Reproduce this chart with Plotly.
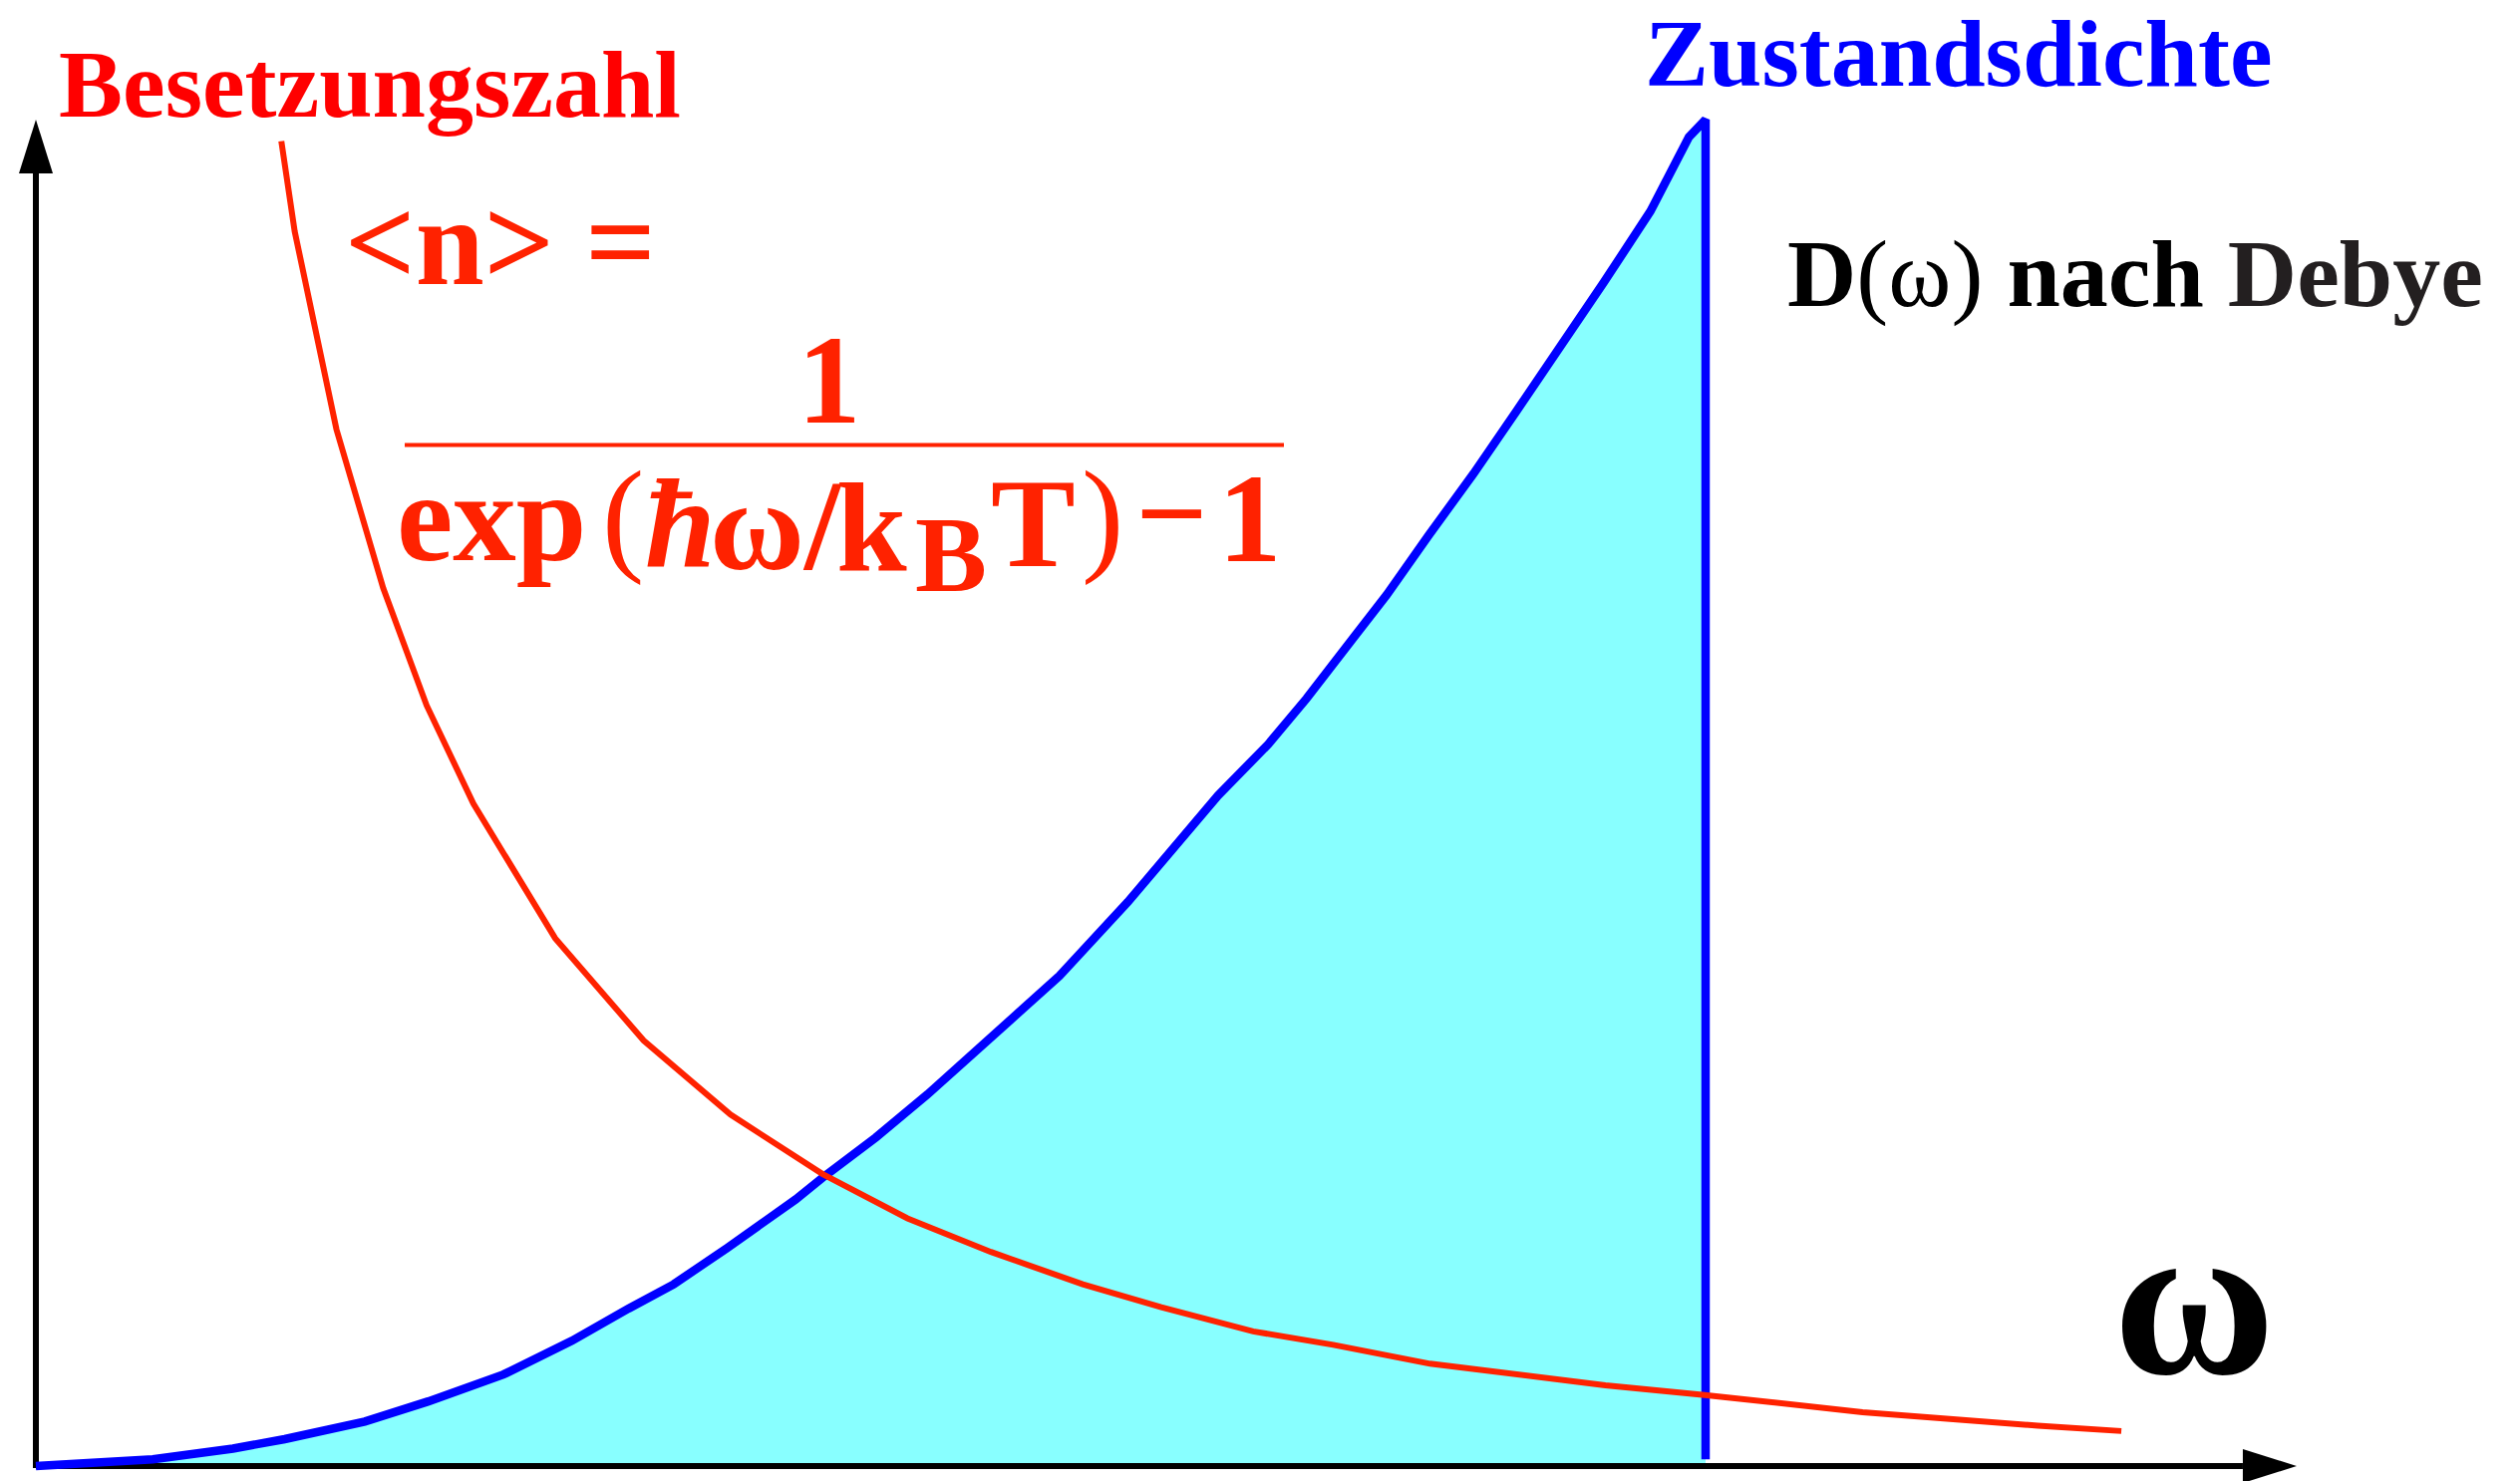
import plotly.graph_objects as go

W, H = 2528, 1486

# Debye density of states D(ω), scaled so that the cutoff ω_D = 1 and D(ω_D) = 1
dos_omega = [0.000, 0.019, 0.070, 0.118, 0.149, 0.197, 0.235, 0.280, 0.321, 0.355,
             0.382, 0.414, 0.455, 0.472, 0.503, 0.534, 0.585, 0.613, 0.654, 0.678,
             0.708, 0.738, 0.761, 0.789, 0.809, 0.834, 0.861, 0.887, 0.914, 0.939,
             0.967, 0.990, 1.000]
dos_value = [0.000, 0.001, 0.005, 0.013, 0.020, 0.033, 0.048, 0.068, 0.093, 0.117,
             0.135, 0.162, 0.198, 0.215, 0.244, 0.276, 0.334, 0.364, 0.419, 0.454,
             0.498, 0.536, 0.570, 0.615, 0.647, 0.691, 0.737, 0.784, 0.833, 0.879,
             0.932, 0.987, 1.000]
omega_debye = 1.0
cutoff_bottom = 0.005

# Bose-Einstein occupation <n>(ω) on the same frequency scale
occ_omega = [0.147, 0.155, 0.180, 0.208, 0.234, 0.262, 0.311, 0.364, 0.416, 0.471,
             0.522, 0.572, 0.627, 0.674, 0.729, 0.777, 0.835, 0.892, 0.940, 0.998,
             1.094, 1.199, 1.249]
occ_value = [0.984, 0.917, 0.770, 0.652, 0.565, 0.492, 0.392, 0.316, 0.261, 0.217,
             0.184, 0.159, 0.135, 0.118, 0.100, 0.090, 0.076, 0.067, 0.060, 0.053,
             0.040, 0.030, 0.026]

# Axis extents (data units)
x_axis_end = 1.354
y_axis_end = 1.0

# Pixel geometry of the drawing
ORIGIN_X, ORIGIN_Y = 36, 1471
PX_PER_OMEGA, PX_PER_D = 1675, 1351

RED = "#FF2200"
BLUE = "#0000FF"
CYAN = "#88FFFF"
SERIF = "Liberation Serif"
ASC, DESC = 0.891, 0.216

fig = go.Figure()

# shaded area under D(ω) up to the Debye cutoff
fig.add_trace(go.Scatter(
    x=[0.0] + dos_omega + [omega_debye, 0.0],
    y=[0.0] + dos_value + [0.0, 0.0],
    mode="lines", fill="toself", fillcolor=CYAN,
    line=dict(width=0, color=CYAN), hoverinfo="skip", showlegend=False))

# coordinate axes
arrow_len_px, arrow_half_px, axis_w = 54, 17, 6
x_shaft_end = x_axis_end - arrow_len_px / PX_PER_OMEGA
y_shaft_end = y_axis_end - arrow_len_px / PX_PER_D
fig.add_trace(go.Scatter(x=[0, x_shaft_end], y=[0, 0], mode="lines",
                         line=dict(color="black", width=axis_w),
                         hoverinfo="skip", showlegend=False))
fig.add_trace(go.Scatter(x=[0, 0], y=[-2 / PX_PER_D, y_shaft_end], mode="lines",
                         line=dict(color="black", width=axis_w),
                         hoverinfo="skip", showlegend=False))

# D(ω) curve with the vertical cutoff at ω_D
fig.add_trace(go.Scatter(
    x=dos_omega + [omega_debye], y=dos_value + [cutoff_bottom],
    mode="lines", line=dict(color=BLUE, width=8.5),
    hoverinfo="skip", showlegend=False))

# occupation number curve
fig.add_trace(go.Scatter(
    x=occ_omega, y=occ_value, mode="lines",
    line=dict(color=RED, width=6),
    hoverinfo="skip", showlegend=False))

# arrow heads
ah_x = arrow_half_px / PX_PER_OMEGA
ah_y = arrow_half_px / PX_PER_D
fig.add_shape(type="path", xref="x", yref="y",
              path=f"M {x_shaft_end} {-ah_y} L {x_axis_end} 0 L {x_shaft_end} {ah_y} Z",
              fillcolor="black", line=dict(width=0))
fig.add_shape(type="path", xref="x", yref="y",
              path=f"M {-ah_x} {y_shaft_end} L 0 {y_axis_end} L {ah_x} {y_shaft_end} Z",
              fillcolor="black", line=dict(width=0))


def label(text, left_px, baseline_px, size, color, bold=True, italic=False):
    y_center = baseline_px - (ASC - DESC) / 2 * size
    fig.add_annotation(
        text=text, x=left_px / W, y=1 - y_center / H,
        xref="paper", yref="paper", xanchor="left", yanchor="middle",
        showarrow=False, borderpad=0, borderwidth=0,
        font=dict(family=SERIF, size=size, color=color,
                  weight="bold" if bold else "normal",
                  style="italic" if italic else "normal"))


label("Besetzungszahl", 59, 117, 96, "#FF0000")
# title of the blue curve sits flush with the top edge
fig.add_annotation(
    text="Zustandsdichte", x=1650 / W, y=1.0, xref="paper", yref="paper",
    xanchor="left", yanchor="top", showarrow=False, borderpad=0, borderwidth=0,
    font=dict(family=SERIF, size=96, color=BLUE, weight="bold"))
label("<b>D</b>(ω)<b> nach </b><span style='color:#231F20'><b>Debye</b></span>",
      1793, 307, 96, "black", bold=False)

# <n> = 1 / (exp(ħω/k_B T) - 1)
label("&lt;n&gt; =", 346, 285, 124, RED)
label("1", 800, 424, 127, RED)
fig.add_shape(type="line", xref="paper", yref="paper",
              x0=406 / W, x1=1288 / W, y0=1 - 446.5 / H, y1=1 - 446.5 / H,
              line=dict(color=RED, width=4))
label("exp", 398, 562, 127, RED)
label("(", 604, 560, 127, RED, bold=False)
label("ħ", 647, 568, 127, RED, italic=True)
label("ω/", 712, 571, 130, RED)
label("k", 839, 572, 127, RED)
label("B", 918, 593, 108, RED)
label("T", 994, 568, 127, RED)
label(")", 1085, 560, 127, RED, bold=False)
label("−", 1139, 558, 127, RED)
label("1", 1222, 563, 127, RED)

# frequency axis label
label("ω", 2120, 1378, 222, "black")

fig.update_layout(
    width=W, height=H, autosize=False,
    margin=dict(l=0, r=0, t=0, b=0, pad=0),
    paper_bgcolor="white", plot_bgcolor="white",
    showlegend=False,
    xaxis=dict(range=[-ORIGIN_X / PX_PER_OMEGA, (W - ORIGIN_X) / PX_PER_OMEGA],
               visible=False, fixedrange=True),
    yaxis=dict(range=[-(H - ORIGIN_Y) / PX_PER_D, ORIGIN_Y / PX_PER_D],
               visible=False, fixedrange=True),
)

fig.write_html("out.html")
